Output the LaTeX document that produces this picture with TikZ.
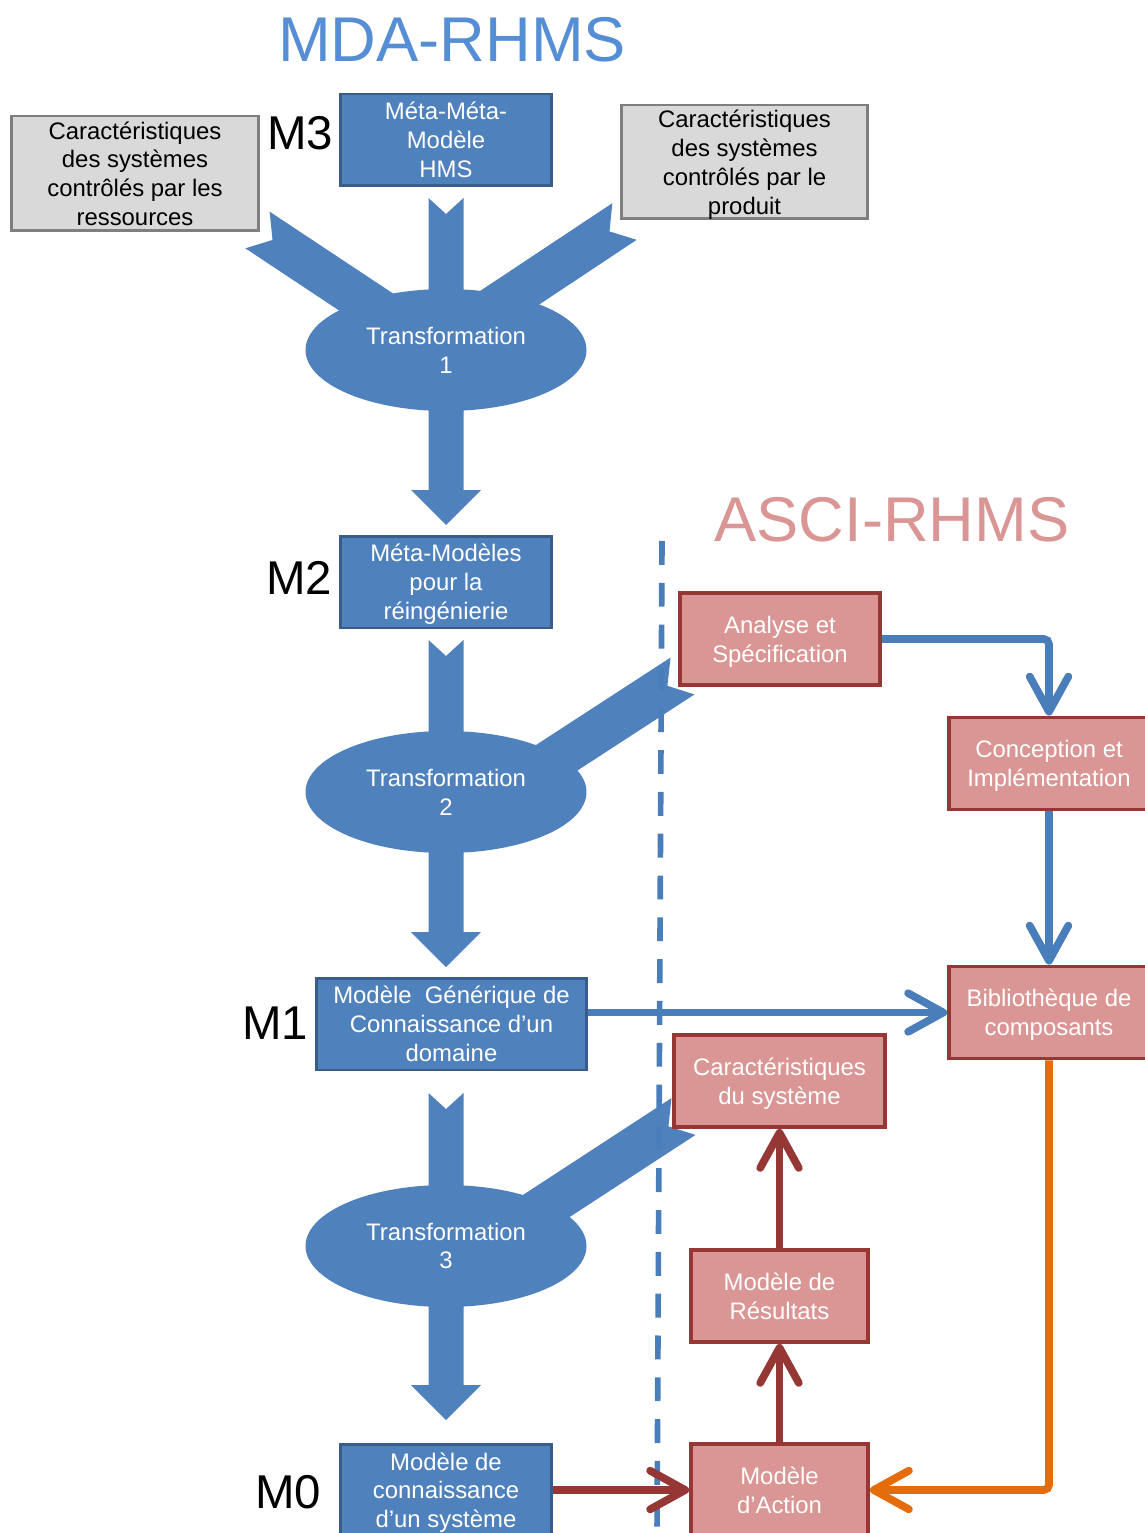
\documentclass[tikz,border=0pt]{standalone}
\usepackage{fontspec}
\setmainfont{Liberation Sans}
\usetikzlibrary{positioning,calc,shapes.geometric,arrows.meta}

\definecolor{mdablue}{HTML}{4F81BD}
\definecolor{mdaedge}{HTML}{385D8A}
\definecolor{titleblue}{HTML}{558ED5}
\definecolor{linkblue}{HTML}{4A7EBB}
\definecolor{greyfill}{HTML}{D9D9D9}
\definecolor{greyedge}{HTML}{7F7F7F}
\definecolor{ascifill}{HTML}{D99694}
\definecolor{asciedge}{HTML}{953735}
\definecolor{orangelink}{HTML}{E46C0A}

% notched block arrow: tail, tip, half shaft, half head, head length, notch
\newcommand{\blockarrow}[6]{%
  \coordinate (ba-base) at ($(#2)!#5!(#1)$);
  \fill[mdablue] ($(#1)!#3!90:(#2)$) -- ($(ba-base)!#3!90:(#2)$) -- ($(ba-base)!#4!90:(#2)$)
    -- (#2) -- ($(ba-base)!#4!-90:(#2)$) -- ($(ba-base)!#3!-90:(#2)$)
    -- ($(#1)!#3!-90:(#2)$) -- ($(#1)!#6!(#2)$) -- cycle;}

\begin{document}
\begin{tikzpicture}[x=0.02cm, y=-0.02cm,
    every node/.style={font=\fontsize{13.6}{16.4}\selectfont, align=center, inner sep=0pt},
    mdabox/.style={draw=mdaedge, line width=1.7pt, fill=mdablue, text=white, minimum height=1.84cm, text depth=0pt},
    greybox/.style={draw=greyedge, line width=1.7pt, fill=greyfill, text=black, text depth=0pt},
    ascibox/.style={draw=asciedge, line width=2.2pt, fill=ascifill, text=white, minimum height=1.84cm, text depth=0pt},
    transfo/.style={ellipse, fill=mdablue, text=white, minimum width=5.62cm, minimum height=2.44cm},
    level/.style={font=\fontsize{27}{30}\selectfont},
    link/.style={line width=4.4pt, rounded corners=3pt, -{Straight Barb[length=20pt,width=22pt,round]}}]
    \useasboundingbox (0,0) rectangle (1144,1533);

    % block arrows of the MDA chain
    \coordinate (a1tail) at (446,198);   \coordinate (a1tip) at (446,525);
    \coordinate (a2tail) at (446,640);   \coordinate (a2tip) at (446,967);
    \coordinate (a3tail) at (446,1093);  \coordinate (a3tip) at (446,1420);
    \coordinate (d1ltail) at (257.5,230); \coordinate (d1ltip) at (446,355);
    \coordinate (d1rtail) at (624.5,221.5); \coordinate (d1rtip) at (446,340);
    \coordinate (d2tail) at (682.5,676); \coordinate (d2tip) at (464,818);
    \coordinate (d3tail) at (683.5,1116.5); \coordinate (d3tip) at (465,1259);
    \blockarrow{d1ltail}{d1ltip}{0.44cm}{0.44cm}{0.6cm}{0.36cm}
    \blockarrow{d1rtail}{d1rtip}{0.44cm}{0.44cm}{0.6cm}{0.36cm}
    \blockarrow{d2tail}{d2tip}{0.44cm}{0.44cm}{0.6cm}{0.36cm}
    \blockarrow{d3tail}{d3tip}{0.44cm}{0.44cm}{0.6cm}{0.36cm}
    \blockarrow{a1tail}{a1tip}{0.35cm}{0.7cm}{0.7cm}{0.32cm}
    \blockarrow{a2tail}{a2tip}{0.35cm}{0.7cm}{0.7cm}{0.32cm}
    \blockarrow{a3tail}{a3tip}{0.35cm}{0.7cm}{0.7cm}{0.32cm}

    \node[transfo] (transfo1) at (446,350) {Transformation\\1};
    \node[transfo] (transfo2) at (446,792) {Transformation\\2};
    \node[transfo] (transfo3) at (446,1246) {Transformation\\3};

    % separation between the two approaches
    \coordinate (septop) at (662,541);
    \coordinate (sepbot) at (657,1533);
    \draw[linkblue, line width=3.2pt, dash pattern=on 13.6pt off 10.2pt] (septop) -- (sepbot);

    \node[text=titleblue, font=\fontsize{36}{40}\selectfont] (mdatitle) at (452,40) {MDA-RHMS};
    \node[text=ascifill, font=\fontsize{36}{40}\selectfont] (ascititle) at (892,520) {ASCI-RHMS};

    \node[mdabox, minimum width=4.24cm] (meta) at (446,140) {Méta-Méta-\\Modèle\\HMS};
    \node[greybox, minimum width=4.96cm, minimum height=2.3cm] (ressources) at (135,173.5) {Caractéristiques\\des systèmes\\contrôlés par les\\ressources};
    \node[greybox, minimum width=4.94cm, minimum height=2.28cm] (produit) at (744.5,162) {Caractéristiques\\des systèmes\\contrôlés par le\\produit};
    \node[mdabox, minimum width=4.24cm] (reing) at (446,582) {Méta-Modèles\\pour la\\réingénierie};
    \node[mdabox, minimum width=5.42cm] (generic) at (451.5,1024) {Modèle~ Générique de\\Connaissance d’un\\domaine};
    \node[mdabox, minimum width=4.24cm] (system) at (446,1490) {Modèle de\\connaissance\\d’un système};

    \node[level] (m3) at (300,133) {M3};
    \node[level] (m2) at (299,578) {M2};
    \node[level] (m1) at (275,1023) {M1};
    \node[level] (m0) at (288,1492) {M0};

    \node[ascibox, minimum width=4cm] (analyse) at (780,639) {Analyse et\\Spécification};
    \node[ascibox, minimum width=4cm] (conception) at (1049,763.5) {Conception et\\Implémentation};
    \node[ascibox, minimum width=4cm] (biblio) at (1049,1012.5) {Bibliothèque de\\composants};
    \node[ascibox, minimum width=4.22cm] (caract) at (779.5,1081) {Caractéristiques\\du système};
    \node[ascibox, minimum width=3.54cm] (resultats) at (779.5,1296) {Modèle de\\Résultats};
    \node[ascibox, minimum width=3.54cm] (action) at (779.5,1490) {Modèle\\d’Action};

    \draw[link, linkblue] (analyse.east) -| (conception.north);
    \draw[link, linkblue] (conception.south) -- (biblio.north);
    \draw[link, linkblue] (generic.east |- biblio.west) -- (biblio.west);
    \draw[link, orangelink] (biblio.south) |- (action.east);
    \draw[link, asciedge] (system.east) -- (action.west);
    \draw[link, asciedge] (action.north) -- (resultats.south);
    \draw[link, asciedge] (resultats.north) -- (caract.south);
\end{tikzpicture}
\end{document}
